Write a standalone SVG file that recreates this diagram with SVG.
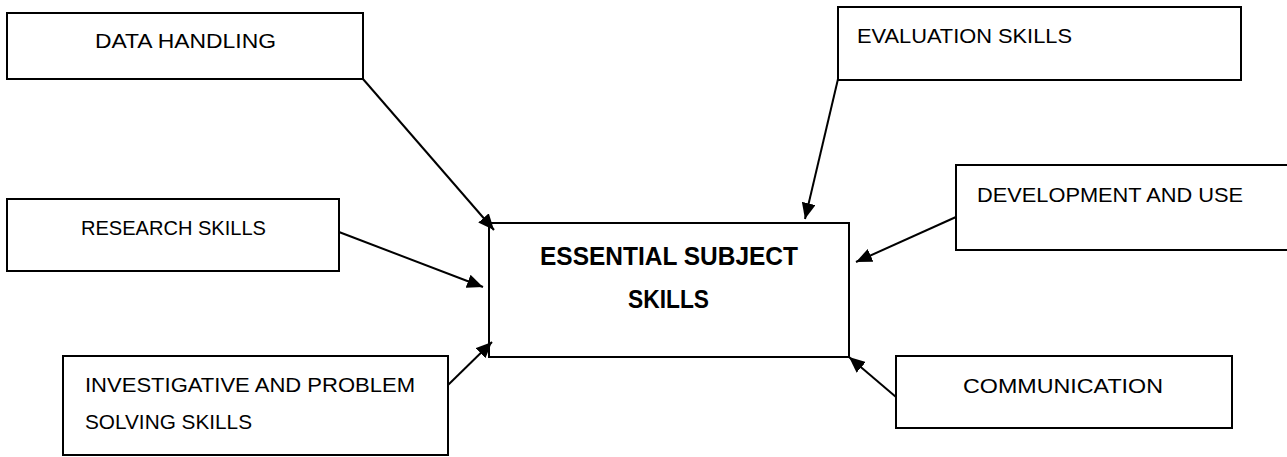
<svg xmlns="http://www.w3.org/2000/svg" width="1287" height="457" viewBox="0 0 1287 457">
<style>
.box{fill:#fff;stroke:#000;stroke-width:2}
.t{font-family:"Liberation Sans",Arial,sans-serif;font-size:21px;fill:#000}
.b{font-family:"Liberation Sans",Arial,sans-serif;font-size:26px;font-weight:bold;fill:#000}
.c{stroke:#000;stroke-width:2;fill:none;marker-end:url(#ah)}
</style>
<defs>
<marker id="ah" markerUnits="userSpaceOnUse" markerWidth="18" markerHeight="14" refX="16" refY="7" orient="auto">
<path d="M0,0 L16,7 L0,14 z" fill="#000"/>
</marker>
</defs>
<rect width="1287" height="457" fill="#fff"/>
<g id="data-handling"><rect class="box" x="7" y="13" width="356" height="66"/><text class="t" x="95" y="48" textLength="181" lengthAdjust="spacingAndGlyphs">DATA HANDLING</text></g>
<g id="evaluation-skills"><rect class="box" x="838" y="7" width="403" height="73"/><text class="t" x="857" y="43" textLength="215" lengthAdjust="spacingAndGlyphs">EVALUATION SKILLS</text></g>
<g id="development-and-use"><rect class="box" x="956" y="165" width="335" height="85"/><text class="t" x="977" y="202" textLength="266" lengthAdjust="spacingAndGlyphs">DEVELOPMENT AND USE</text></g>
<g id="research-skills"><rect class="box" x="7" y="199" width="332" height="72"/><text class="t" x="81" y="235" textLength="185" lengthAdjust="spacingAndGlyphs">RESEARCH SKILLS</text></g>
<g id="investigative"><rect class="box" x="63" y="356" width="385" height="99"/><text class="t" x="85" y="392" textLength="330" lengthAdjust="spacingAndGlyphs">INVESTIGATIVE AND PROBLEM</text><text class="t" x="85" y="429" textLength="167" lengthAdjust="spacingAndGlyphs">SOLVING SKILLS</text></g>
<g id="communication"><rect class="box" x="896" y="356" width="336" height="72"/><text class="t" x="963" y="393" textLength="200" lengthAdjust="spacingAndGlyphs">COMMUNICATION</text></g>
<g id="essential"><rect class="box" x="489" y="223" width="360" height="134"/><text class="b" x="540" y="265" textLength="258" lengthAdjust="spacingAndGlyphs">ESSENTIAL SUBJECT</text><text class="b" x="628" y="308" textLength="81" lengthAdjust="spacingAndGlyphs">SKILLS</text></g>
<g id="connectors">
<line class="c" x1="363" y1="79" x2="494" y2="230"/>
<line class="c" x1="838" y1="79" x2="805" y2="219"/>
<line class="c" x1="956" y1="217" x2="856" y2="262"/>
<line class="c" x1="339" y1="232" x2="483" y2="287"/>
<line class="c" x1="448" y1="385" x2="492" y2="342"/>
<line class="c" x1="896" y1="397" x2="849" y2="357"/>
</g>
</svg>
